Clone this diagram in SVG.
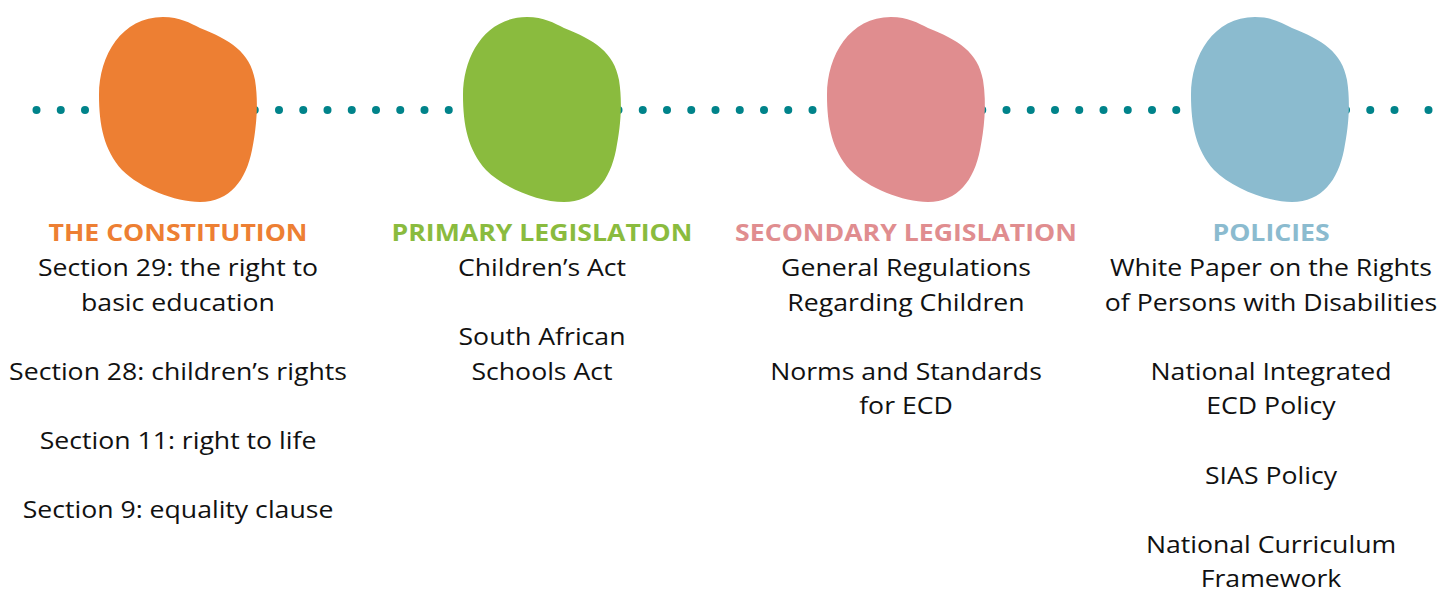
<svg xmlns="http://www.w3.org/2000/svg" width="1440" height="590" viewBox="0 0 1440 590">
  <defs>
    <style>
      .dot { fill: #00838A; }
      .title { font-family: "Open Sans", "Liberation Sans", sans-serif; font-weight: 700; font-size: 24px; text-anchor: middle; }
      .body { font-family: "Open Sans", "Liberation Sans", sans-serif; font-size: 24px; fill: #111111; text-anchor: middle; }
      .orange { fill: #ED7F33; }
      .green { fill: #8ABB3E; }
      .pink { fill: #E08D8F; }
      .blue { fill: #8BBBCF; }
    </style>
    <circle id="d" r="4" class="dot"/>
    <!-- organic blob, drawn around its own origin -->
    <path id="blob" d="M163,17 C180,17 190,23 200,28 C230,40 250,52 255,80 C259,105 256,130 252,150 C246,180 230,202 200,202 C175,202 140,188 122,170 C104,150 99,125 99,95 C99,55 122,17 163,17 Z"/>
  </defs>

  <!-- dotted timeline -->
  <g id="connectors">
    <use href="#d" x="36.5" y="110"/>
    <use href="#d" x="60.75" y="110"/>
    <use href="#d" x="85" y="110"/>
    <use href="#d" x="254.75" y="110"/>
    <use href="#d" x="279" y="110"/>
    <use href="#d" x="303.25" y="110"/>
    <use href="#d" x="327.5" y="110"/>
    <use href="#d" x="351.75" y="110"/>
    <use href="#d" x="376" y="110"/>
    <use href="#d" x="400.25" y="110"/>
    <use href="#d" x="424.5" y="110"/>
    <use href="#d" x="448.75" y="110"/>
    <use href="#d" x="618.5" y="110"/>
    <use href="#d" x="642.75" y="110"/>
    <use href="#d" x="667" y="110"/>
    <use href="#d" x="691.25" y="110"/>
    <use href="#d" x="715.5" y="110"/>
    <use href="#d" x="739.75" y="110"/>
    <use href="#d" x="764" y="110"/>
    <use href="#d" x="788.25" y="110"/>
    <use href="#d" x="812.5" y="110"/>
    <use href="#d" x="982.25" y="110"/>
    <use href="#d" x="1006.5" y="110"/>
    <use href="#d" x="1030.75" y="110"/>
    <use href="#d" x="1055" y="110"/>
    <use href="#d" x="1079.25" y="110"/>
    <use href="#d" x="1103.5" y="110"/>
    <use href="#d" x="1127.75" y="110"/>
    <use href="#d" x="1152" y="110"/>
    <use href="#d" x="1176.25" y="110"/>
    <use href="#d" x="1346" y="110"/>
    <use href="#d" x="1370.25" y="110"/>
    <use href="#d" x="1394.5" y="110"/>
    <use href="#d" x="1428.5" y="110"/>
  </g>

  <!-- each column: blob, then a horizontally widened text block centred on the column -->
  <g id="constitution">
    <use href="#blob" class="orange"/>
    <g transform="translate(178 0) scale(1.11 1)">
      <text class="title orange" x="0" y="241.5">THE CONSTITUTION</text>
      <text class="body" x="0" y="276">Section 29: the right to</text>
      <text class="body" x="0" y="310.6">basic education</text>
      <text class="body" x="0" y="379.8">Section 28: children’s rights</text>
      <text class="body" x="0" y="449">Section 11: right to life</text>
      <text class="body" x="0" y="518.2">Section 9: equality clause</text>
    </g>
  </g>

  <g id="primary">
    <use href="#blob" class="green" x="364"/>
    <g transform="translate(542 0) scale(1.11 1)">
      <text class="title green" x="0" y="241.5">PRIMARY LEGISLATION</text>
      <text class="body" x="0" y="276">Children’s Act</text>
      <text class="body" x="0" y="345.2">South African</text>
      <text class="body" x="0" y="379.8">Schools Act</text>
    </g>
  </g>

  <g id="secondary">
    <use href="#blob" class="pink" x="728"/>
    <g transform="translate(906 0) scale(1.11 1)">
      <text class="title pink" x="0" y="241.5">SECONDARY LEGISLATION</text>
      <text class="body" x="0" y="276">General Regulations</text>
      <text class="body" x="0" y="310.6">Regarding Children</text>
      <text class="body" x="0" y="379.8">Norms and Standards</text>
      <text class="body" x="0" y="414.4">for ECD</text>
    </g>
  </g>

  <g id="policies">
    <use href="#blob" class="blue" x="1092"/>
    <g transform="translate(1271 0) scale(1.11 1)">
      <text class="title blue" x="0" y="241.5">POLICIES</text>
      <text class="body" x="0" y="276">White Paper on the Rights</text>
      <text class="body" x="0" y="310.6">of Persons with Disabilities</text>
      <text class="body" x="0" y="379.8">National Integrated</text>
      <text class="body" x="0" y="414.4">ECD Policy</text>
      <text class="body" x="0" y="483.6">SIAS Policy</text>
      <text class="body" x="0" y="552.8">National Curriculum</text>
      <text class="body" x="0" y="587.4">Framework</text>
    </g>
  </g>
</svg>
